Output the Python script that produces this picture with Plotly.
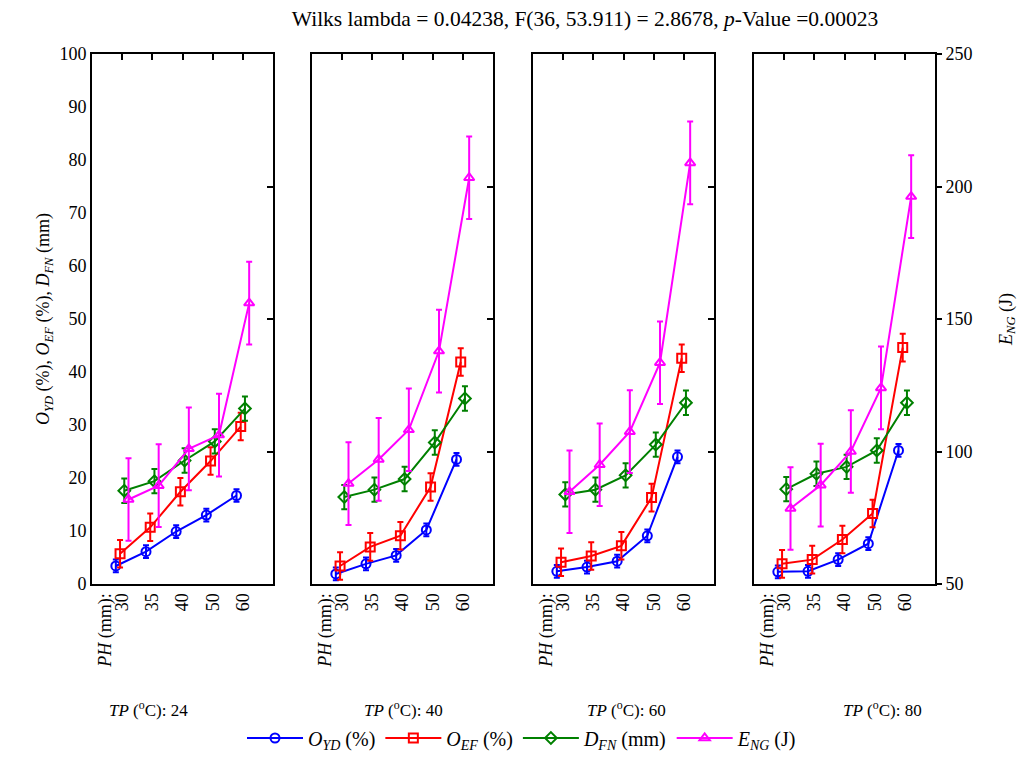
import plotly.graph_objects as go

# ---- data ----
ph_labels = ["30", "35", "40", "50", "60"]
tp_labels = ["24", "40", "60", "80"]

o_yd = [
    [3.4, 6.1, 9.9, 13.0, 16.7],
    [1.9, 3.8, 5.4, 10.2, 23.5],
    [2.4, 3.2, 4.3, 9.1, 24.0],
    [2.3, 2.4, 4.6, 7.6, 25.2],
]
o_ef = [
    [5.7, 10.7, 17.4, 23.2, 29.7],
    [3.4, 7.0, 9.1, 18.3, 41.9],
    [4.1, 5.3, 7.2, 16.3, 42.6],
    [3.8, 4.6, 8.4, 13.3, 44.6],
]
d_fn = [
    [17.6, 19.4, 23.3, 26.9, 33.1],
    [16.4, 17.8, 19.8, 26.7, 35.0],
    [16.9, 17.8, 20.5, 26.3, 34.2],
    [17.9, 20.8, 22.1, 25.2, 34.2],
]
e_ng = [
    [81.9, 87.1, 101.0, 106.2, 156.0],
    [87.9, 97.0, 108.2, 137.9, 203.3],
    [84.8, 95.0, 107.5, 133.5, 208.9],
    [78.5, 87.3, 100.0, 124.0, 196.2],
]
err_o_yd = 1.2
err_o_ef = 2.6
err_d_fn = 2.3
err_e_ng = 15.6

# page body has an 8px margin; figure is sized so the window shows it like the reference
OFF = 8
W, H = 1028 - 2 * OFF, 760 - 2 * OFF
FONT = "Liberation Serif"


def fx(p):
    return (p - OFF) / W


def fy(p):
    return 1 - (p - OFF) / H


panel_px = [(92, 273), (312, 493), (533, 714), (754, 935)]
y_dom = [fy(584), fy(54)]
tp_x_px = [148, 403, 626, 882]

series = [
    ("<i>O</i><sub><i>YD</i></sub> (%)", o_yd, err_o_yd, "blue", "circle-open", -0.21, False),
    ("<i>O</i><sub><i>EF</i></sub> (%)", o_ef, err_o_ef, "red", "square-open", -0.07, False),
    ("<i>D</i><sub><i>FN</i></sub> (mm)", d_fn, err_d_fn, "green", "diamond-open", 0.07, False),
    ("<i>E</i><sub><i>NG</i></sub> (J)", e_ng, err_e_ng, "magenta", "triangle-up-open", 0.21, True),
]

fig = go.Figure()
layout = {}
cat_idx = list(range(len(ph_labels)))

for k in range(4):
    xb = 2 * k + 1
    xt = 2 * k + 2
    xb_name = "x" if xb == 1 else f"x{xb}"
    xt_name = f"x{xt}"
    yl_name = "y" if xb == 1 else f"y{xb}"
    yr_name = f"y{xt}"
    for name, vals, err, col, sym, off, right in series:
        fig.add_trace(go.Scatter(
            x=[i + off for i in cat_idx], y=vals[k],
            mode="lines+markers", name=name,
            line=dict(color=col, width=2),
            marker=dict(symbol=sym, size=9, color=col, line=dict(color=col, width=2)),
            error_y=dict(type="constant", value=err, color=col, thickness=2, width=3),
            xaxis=xt_name if right else xb_name,
            yaxis=yr_name if right else yl_name,
            showlegend=(k == 0), legendgroup=name,
        ))
    dom = [fx(panel_px[k][0]), fx(panel_px[k][1])]
    layout[f"xaxis{xb}" if xb > 1 else "xaxis"] = dict(
        domain=dom, range=[-1, 5], anchor=yl_name, automargin=False,
        showline=True, linewidth=2, linecolor="black", mirror=True,
        ticks="", tickvals=[-0.55] + cat_idx,
        ticktext=["<i>PH</i> (mm):"] + ph_labels, tickangle=-90,
        showgrid=False, zeroline=False,
        tickfont=dict(family=FONT, size=18, color="black"),
    )
    layout[f"xaxis{xt}"] = dict(
        domain=dom, range=[-1, 5], overlaying=xb_name, side="top", anchor=yr_name,
        automargin=False,
        ticks="inside", ticklen=6, tickwidth=1.5, tickcolor="black",
        tickvals=cat_idx, showticklabels=False, showline=False,
        showgrid=False, zeroline=False,
    )
    ly = dict(
        domain=y_dom, range=[0, 100], anchor=xb_name, automargin=False,
        showline=True, linewidth=2, linecolor="black", mirror=True,
        ticks="", dtick=10, showticklabels=(k == 0),
        showgrid=False, zeroline=False,
        tickfont=dict(family=FONT, size=18, color="black"),
    )
    if k == 0:
        ly["title"] = dict(
            text="<i>O</i><sub><i>YD</i></sub> (%), <i>O</i><sub><i>EF</i></sub> (%), <i>D</i><sub><i>FN</i></sub> (mm)",
            font=dict(family=FONT, size=18, color="black"), standoff=5)
    layout[f"yaxis{xb}" if xb > 1 else "yaxis"] = ly
    ry = dict(
        domain=y_dom, range=[50, 250], overlaying=yl_name, side="right", anchor=xt_name,
        automargin=False,
        ticks="outside" if k == 3 else "inside", ticklen=6, tickwidth=1.5, tickcolor="black",
        dtick=50, showticklabels=(k == 3), showline=False,
        showgrid=False, zeroline=False,
        tickfont=dict(family=FONT, size=18, color="black"),
    )
    if k == 3:
        ry["title"] = dict(text="<i>E</i><sub><i>NG</i></sub> (J)",
                           font=dict(family=FONT, size=18, color="black"), standoff=27)
    layout[f"yaxis{xt}"] = ry

annotations = []
for k in range(4):
    annotations.append(dict(
        text=f"<i>TP</i> (<sup>o</sup>C): {tp_labels[k]}",
        x=fx(tp_x_px[k]), y=fy(709), xref="paper", yref="paper",
        showarrow=False, xanchor="center", yanchor="middle",
        font=dict(family=FONT, size=17, color="black"),
    ))

fig.update_layout(
    width=W, height=H,
    margin=dict(l=0, r=0, t=0, b=0, autoexpand=False),
    paper_bgcolor="white", plot_bgcolor="white",
    title=dict(text="Wilks lambda = 0.04238, F(36, 53.911) = 2.8678, <i>p</i>-Value =0.00023",
               x=fx(585), xanchor="center", y=fy(18), yanchor="middle",
               yref="container", xref="container",
               font=dict(family=FONT, size=21.5, color="black")),
    legend=dict(orientation="h", x=fx(522), xanchor="center", y=fy(738), yanchor="middle",
                font=dict(family=FONT, size=20, color="black"), itemwidth=56,
                bgcolor="rgba(0,0,0,0)", tracegroupgap=0),
    annotations=annotations,
    showlegend=True,
    **layout,
)

fig.write_html("out.html")
